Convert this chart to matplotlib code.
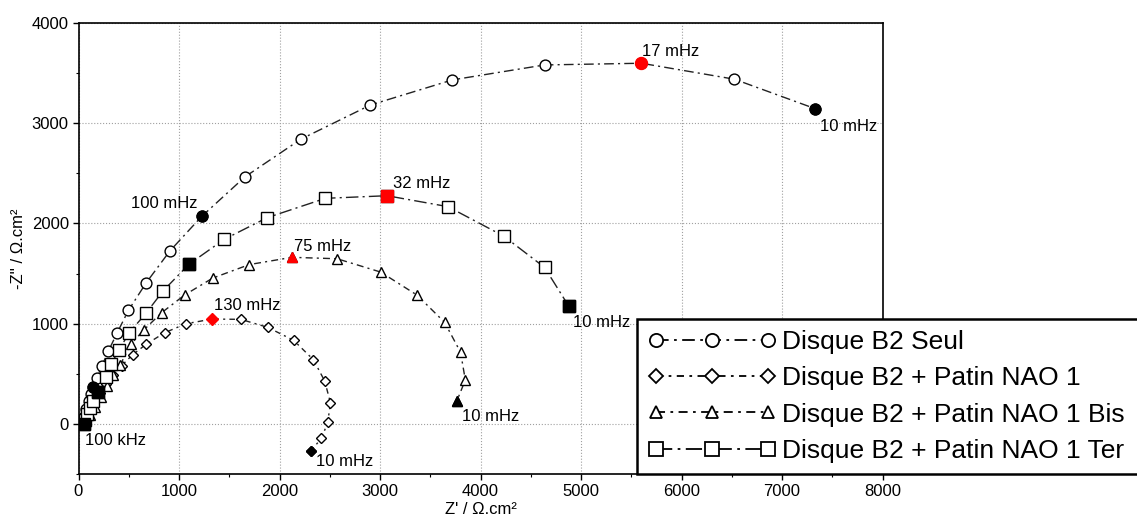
import matplotlib
matplotlib.use("Agg")
import matplotlib.pyplot as plt
from matplotlib.lines import Line2D
from matplotlib.ticker import MultipleLocator

plt.rcParams['font.family'] = ['Liberation Sans', 'DejaVu Sans']

# ---- data (Z', -Z'') ----
seul_x = [40, 55, 75, 100, 120, 145, 180, 231, 296, 386, 497, 672, 908, 1225, 1655, 2212, 2905, 3720, 4637, 5601, 6526, 7328]
seul_y = [0, 70, 150, 230, 300, 370, 456, 575, 726, 912, 1134, 1406, 1724, 2069, 2463, 2839, 3180, 3430, 3579, 3596, 3437, 3144]
seul_black = [0, 5, 13, 21]
seul_red = [19]

nao_x = [50, 60, 85, 120, 160, 210, 270, 346, 429, 539, 675, 856, 1068, 1330, 1615, 1884, 2142, 2338, 2450, 2507, 2480, 2417, 2311]
nao_y = [0, 30, 80, 150, 230, 310, 400, 488, 583, 692, 797, 910, 1000, 1047, 1044, 964, 834, 641, 429, 212, 17, -143, -266]
nao_black = [0, 22]
nao_red = [13]

bis_x = [45, 70, 110, 160, 220, 280, 345, 415, 520, 648, 827, 1055, 1335, 1700, 2125, 2573, 3007, 3368, 3643, 3802, 3849, 3765]
bis_y = [0, 30, 90, 170, 270, 380, 490, 590, 795, 937, 1110, 1286, 1455, 1590, 1662, 1648, 1515, 1286, 1014, 715, 439, 232]
bis_black = [0, 21]
bis_red = [14]

ter_x = [50, 65, 85, 110, 140, 195, 273, 325, 403, 505, 671, 843, 1098, 1449, 1877, 2457, 3070, 3676, 4230, 4637, 4876]
ter_y = [0, 40, 100, 160, 235, 320, 472, 600, 738, 912, 1104, 1329, 1592, 1841, 2057, 2250, 2276, 2167, 1874, 1562, 1179]
ter_black = [0, 5, 12, 20]
ter_red = [16]

labels = ["Disque B2 Seul", "Disque B2 + Patin NAO 1",
          "Disque B2 + Patin NAO 1 Bis", "Disque B2 + Patin NAO 1 Ter"]

# annotations: text, x, y
ann_text = ["17 mHz", "10 mHz", "100 mHz", "32 mHz", "75 mHz", "130 mHz",
            "10 mHz", "10 mHz", "10 mHz", "100 kHz"]
ann_x = [5611, 7378, 522, 3129, 2145, 1350, 4925, 3815, 2368, 65]
ann_y = [3709, 2964, 2202, 2400, 1768, 1179, 1014, 80, -374, -167]

series = [
    (seul_x, seul_y, seul_black, seul_red, 'o', 7.8, (0, (7, 3, 1.5, 3))),
    (nao_x, nao_y, nao_black, nao_red, 'D', 5.6, (0, (4, 3, 1.5, 3))),
    (bis_x, bis_y, bis_black, bis_red, '^', 7.0, (0, (5, 3, 1.5, 3))),
    (ter_x, ter_y, ter_black, ter_red, 's', 8.2, (0, (9, 3, 1.5, 3))),
]

fig = plt.figure(figsize=(11.37, 5.27), dpi=100)
ax = fig.add_axes([78.5 / 1137, 1 - 474.3 / 527, (882.5 - 78.5) / 1137, (474.3 - 22.7) / 527])

handles = []
for (xs, ys, blk, red, mk, ms, ls), lab in zip(series, labels):
    ax.plot(xs, ys, linestyle=ls, color='#222222', lw=1.0, marker=mk, ms=ms,
            mfc='white', mec='black', mew=1.0, zorder=3)
    ax.plot([xs[i] for i in blk], [ys[i] for i in blk], linestyle='none',
            marker=mk, ms=ms, mfc='black', mec='black', zorder=4)
    ax.plot([xs[i] for i in red], [ys[i] for i in red], linestyle='none',
            marker=mk, ms=ms + 0.8, mfc='red', mec='red', zorder=4)
    hms = 9.5 if mk in ('o', 's') else (7.0 if mk == 'D' else 8.5)
    handles.append(Line2D([], [], linestyle=ls, color='black', lw=1.3, marker=mk,
                          ms=hms, mfc='white', mec='black', mew=1.3))

for t, x, y in zip(ann_text, ann_x, ann_y):
    ax.text(x, y, t, ha='left', va='center', fontsize=12, color='black', zorder=5)

ax.set_xlim(0, 8000)
ax.set_ylim(-500, 4000)
ax.xaxis.set_major_locator(MultipleLocator(1000))
ax.xaxis.set_minor_locator(MultipleLocator(500))
ax.yaxis.set_major_locator(MultipleLocator(1000))
ax.yaxis.set_minor_locator(MultipleLocator(500))
ax.tick_params(which='major', direction='out', length=4, width=1, labelsize=12, pad=3)
ax.tick_params(which='minor', direction='out', length=2, width=0.8)
ax.grid(True, which='major', linestyle=':', color='#a0a0a0', lw=0.8)
for s in ax.spines.values():
    s.set_linewidth(1.2)

ax.set_xlabel("Z' / \u03a9.cm\u00b2", fontsize=12, labelpad=2)
ax.set_ylabel("-Z'' / \u03a9.cm\u00b2", fontsize=12, labelpad=4)

leg = fig.legend(handles, labels, loc='lower left',
                 bbox_to_anchor=(637.3 / 1137, (527 - 473.5) / 527, (1137 - 637.3) / 1137 + 0.01, 0.2),
                 mode='expand', borderaxespad=0, numpoints=3, handlelength=4.85,
                 handletextpad=0.24, labelspacing=0.47, borderpad=0.4,
                 fontsize=19, fancybox=False, framealpha=1, edgecolor='black')
leg.get_frame().set_linewidth(1.8)
leg.set_zorder(10)

fig.savefig("out.png", dpi=100)
